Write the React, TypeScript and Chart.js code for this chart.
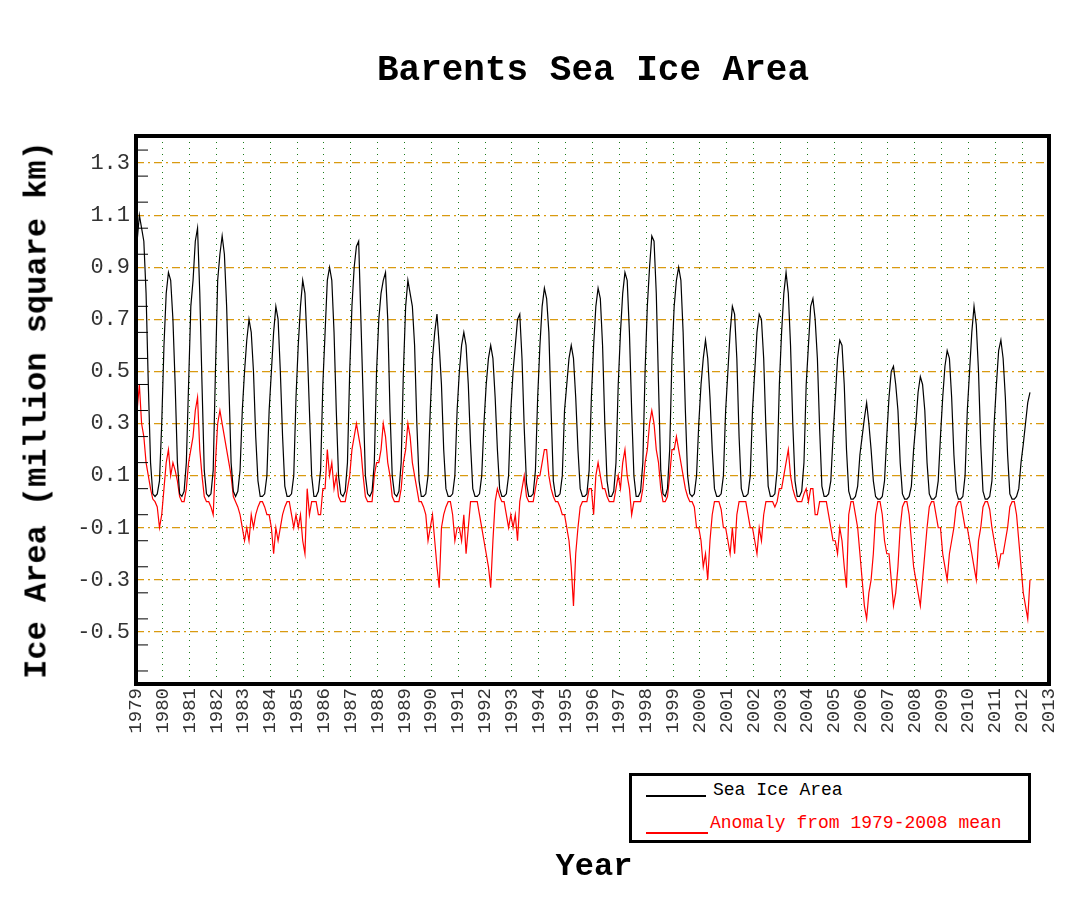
import React, { useEffect, useRef } from "react";
import { Chart, registerables } from "chart.js";
Chart.register(...registerables);

const startYear = 1979;
const yearTicks = Array.from({ length: 35 }, (_, i) => 1979 + i);
// monthly sea ice area (million km²), Jan..Dec per year
const area: number[][] = [
  [1.00,1.10,1.05,1.00,0.80,0.45,0.15,0.03,0.02,0.03,0.08,0.30],
  [0.60,0.80,0.88,0.85,0.70,0.45,0.15,0.03,0.02,0.04,0.15,0.45],
  [0.75,0.85,1.00,1.05,0.80,0.45,0.12,0.03,0.02,0.03,0.12,0.50],
  [0.85,0.95,1.02,0.95,0.75,0.45,0.15,0.04,0.02,0.04,0.12,0.35],
  [0.50,0.62,0.70,0.65,0.50,0.25,0.08,0.02,0.02,0.03,0.10,0.35],
  [0.50,0.65,0.75,0.70,0.50,0.25,0.06,0.02,0.02,0.03,0.10,0.40],
  [0.60,0.75,0.85,0.80,0.60,0.35,0.10,0.02,0.02,0.04,0.12,0.45],
  [0.65,0.85,0.90,0.85,0.65,0.35,0.10,0.03,0.02,0.04,0.15,0.50],
  [0.75,0.90,0.98,1.00,0.70,0.40,0.10,0.03,0.02,0.04,0.15,0.50],
  [0.70,0.80,0.85,0.88,0.70,0.35,0.10,0.03,0.02,0.04,0.15,0.50],
  [0.75,0.85,0.80,0.75,0.60,0.30,0.08,0.02,0.02,0.03,0.10,0.35],
  [0.55,0.65,0.72,0.60,0.45,0.20,0.05,0.02,0.02,0.03,0.10,0.35],
  [0.50,0.60,0.65,0.60,0.45,0.22,0.05,0.02,0.02,0.03,0.10,0.30],
  [0.45,0.55,0.60,0.55,0.40,0.20,0.05,0.02,0.02,0.03,0.10,0.35],
  [0.50,0.60,0.70,0.72,0.55,0.28,0.07,0.02,0.02,0.03,0.12,0.40],
  [0.60,0.75,0.82,0.78,0.65,0.35,0.08,0.02,0.02,0.03,0.10,0.35],
  [0.45,0.55,0.60,0.55,0.40,0.20,0.05,0.02,0.02,0.03,0.12,0.40],
  [0.60,0.75,0.82,0.78,0.60,0.30,0.08,0.02,0.02,0.04,0.15,0.45],
  [0.65,0.80,0.88,0.85,0.65,0.35,0.10,0.02,0.02,0.04,0.15,0.50],
  [0.75,0.90,1.02,1.00,0.80,0.45,0.12,0.03,0.02,0.05,0.20,0.55],
  [0.75,0.85,0.90,0.85,0.65,0.35,0.10,0.03,0.02,0.03,0.10,0.30],
  [0.45,0.55,0.62,0.55,0.40,0.20,0.05,0.02,0.02,0.03,0.10,0.35],
  [0.50,0.65,0.75,0.72,0.55,0.25,0.05,0.02,0.02,0.03,0.10,0.35],
  [0.50,0.65,0.72,0.70,0.55,0.28,0.06,0.02,0.02,0.03,0.12,0.45],
  [0.65,0.80,0.88,0.80,0.60,0.30,0.08,0.02,0.02,0.04,0.15,0.45],
  [0.60,0.75,0.78,0.70,0.55,0.28,0.06,0.02,0.02,0.03,0.08,0.25],
  [0.40,0.55,0.62,0.60,0.45,0.20,0.04,0.01,0.01,0.02,0.06,0.18],
  [0.25,0.32,0.38,0.30,0.20,0.08,0.02,0.01,0.01,0.02,0.08,0.25],
  [0.40,0.50,0.52,0.45,0.35,0.15,0.03,0.01,0.01,0.02,0.06,0.20],
  [0.30,0.42,0.48,0.45,0.35,0.15,0.03,0.01,0.01,0.02,0.08,0.25],
  [0.40,0.52,0.58,0.55,0.40,0.18,0.04,0.01,0.01,0.02,0.10,0.35],
  [0.50,0.65,0.75,0.68,0.50,0.22,0.04,0.01,0.01,0.02,0.08,0.30],
  [0.45,0.58,0.62,0.55,0.40,0.18,0.03,0.01,0.01,0.02,0.05,0.15],
  [0.22,0.30,0.38,0.42],
];
// monthly anomaly from 1979-2008 mean
const anomaly: number[][] = [
  [0.35,0.45,0.30,0.25,0.15,0.10,0.05,0.01,0.00,-0.02,-0.10,-0.05],
  [0.05,0.15,0.20,0.10,0.15,0.12,0.08,0.02,0.00,0.00,0.05,0.15],
  [0.20,0.25,0.35,0.40,0.20,0.10,0.02,0.00,0.00,-0.02,-0.05,0.15],
  [0.30,0.35,0.30,0.25,0.20,0.15,0.10,0.02,0.00,-0.02,-0.05,-0.10],
  [-0.15,-0.10,-0.15,-0.05,-0.10,-0.05,-0.02,0.00,0.00,-0.02,-0.05,-0.05],
  [-0.10,-0.20,-0.10,-0.15,-0.10,-0.05,-0.02,0.00,0.00,-0.05,-0.10,-0.05],
  [-0.10,-0.05,-0.15,-0.20,0.05,-0.05,0.00,0.00,0.00,-0.05,-0.05,0.05],
  [0.05,0.20,0.10,0.15,0.05,0.10,0.02,0.00,0.00,0.00,0.05,0.10],
  [0.20,0.25,0.30,0.25,0.20,0.10,0.02,0.00,0.00,0.00,0.10,0.15],
  [0.15,0.20,0.30,0.25,0.15,0.10,0.02,0.00,0.00,0.00,0.05,0.15],
  [0.20,0.30,0.25,0.15,0.10,0.05,0.00,0.00,-0.02,-0.05,-0.15,-0.10],
  [-0.05,-0.15,-0.25,-0.33,-0.10,-0.05,-0.02,0.00,0.00,-0.05,-0.15,-0.10],
  [-0.10,-0.15,-0.05,-0.20,-0.10,0.00,0.00,0.00,0.00,-0.05,-0.10,-0.15],
  [-0.20,-0.25,-0.33,-0.15,0.00,0.05,0.02,0.00,0.00,-0.05,-0.10,-0.05],
  [-0.10,-0.05,-0.15,0.00,0.05,0.10,0.02,0.00,0.00,0.00,0.05,0.10],
  [0.10,0.15,0.20,0.20,0.10,0.05,0.02,0.00,0.00,-0.02,-0.05,-0.05],
  [-0.10,-0.15,-0.25,-0.40,-0.20,-0.10,-0.02,0.00,0.00,0.00,0.05,0.05],
  [-0.05,0.10,0.15,0.10,0.05,0.05,0.02,0.00,0.00,0.00,0.05,0.10],
  [0.05,0.15,0.20,0.10,0.05,-0.05,0.00,0.00,0.00,0.00,0.05,0.15],
  [0.20,0.30,0.35,0.30,0.20,0.15,0.05,0.00,0.00,0.02,0.10,0.20],
  [0.20,0.25,0.20,0.15,0.10,0.05,0.02,0.00,0.00,-0.02,-0.10,-0.10],
  [-0.15,-0.25,-0.20,-0.30,-0.15,-0.05,0.00,0.00,0.00,-0.03,-0.10,-0.10],
  [-0.15,-0.20,-0.10,-0.20,-0.05,0.00,0.00,0.00,0.00,-0.05,-0.10,-0.10],
  [-0.15,-0.20,-0.10,-0.15,-0.05,0.00,0.00,0.00,0.00,-0.02,0.00,0.05],
  [0.05,0.10,0.15,0.20,0.10,0.05,0.02,0.00,0.00,0.00,0.03,0.05],
  [0.00,0.05,0.05,-0.05,-0.05,0.00,0.00,0.00,0.00,-0.05,-0.10,-0.15],
  [-0.15,-0.20,-0.10,-0.15,-0.25,-0.33,-0.05,0.00,0.00,-0.05,-0.10,-0.20],
  [-0.30,-0.40,-0.45,-0.35,-0.30,-0.20,-0.05,0.00,0.00,-0.05,-0.15,-0.20],
  [-0.20,-0.30,-0.40,-0.35,-0.25,-0.10,-0.02,0.00,0.00,-0.05,-0.15,-0.25],
  [-0.30,-0.35,-0.40,-0.30,-0.20,-0.10,-0.02,0.00,0.00,-0.05,-0.10,-0.10],
  [-0.20,-0.25,-0.30,-0.20,-0.15,-0.10,-0.02,0.00,0.00,-0.05,-0.10,-0.10],
  [-0.15,-0.20,-0.25,-0.30,-0.15,-0.10,-0.02,0.00,0.00,-0.03,-0.10,-0.15],
  [-0.20,-0.25,-0.20,-0.20,-0.15,-0.10,-0.02,0.00,0.00,-0.05,-0.15,-0.25],
  [-0.35,-0.40,-0.45,-0.30],
];

const toPoints = (rows: number[][]) =>
  rows.flatMap((row, yi) => row.map((v, m) => ({ x: startYear + yi + (m + 0.5) / 12, y: v })));

const MONO = "'Liberation Mono', 'DejaVu Sans Mono', monospace";

const frame = {
  id: "frame",
  afterDraw(chart: any) {
    const { ctx, chartArea: a, scales } = chart;
    ctx.save();
    ctx.strokeStyle = "#000";
    ctx.lineWidth = 1;
    for (let v = -0.65; v < 1.4; v += 0.1) {
      const y = scales.y.getPixelForValue(v);
      ctx.beginPath();
      ctx.moveTo(a.left, y);
      ctx.lineTo(a.left + 12, y);
      ctx.stroke();
    }
    ctx.lineWidth = 4;
    ctx.strokeRect(a.left, a.top, a.right - a.left, a.bottom - a.top);
    ctx.restore();
  },
};

export default function App() {
  const ref = useRef<HTMLCanvasElement>(null);
  useEffect(() => {
    const chart = new Chart(ref.current!, {
      type: "line",
      data: {
        datasets: [
          { label: "Sea Ice Area", data: toPoints(area), borderColor: "#000", borderWidth: 1.2, pointRadius: 0, tension: 0 },
          { label: "Anomaly from 1979-2008 mean", data: toPoints(anomaly), borderColor: "#ff0000", borderWidth: 1.2, pointRadius: 0, tension: 0 },
        ],
      },
      options: {
        animation: false,
        responsive: false,
        layout: { padding: { left: 0, right: 43, top: 136, bottom: 0 } },
        plugins: { legend: { display: false }, title: { display: false }, tooltip: { enabled: false } },
        scales: {
          x: {
            type: "linear",
            min: 1979,
            max: 2013,
            afterBuildTicks: (s: any) => { s.ticks = yearTicks.map((v) => ({ value: v })); },
            afterFit: (s: any) => { s.height = 228; },
            ticks: { maxRotation: 90, minRotation: 90, autoSkip: false, color: "#333", font: { family: MONO, size: 19 }, callback: (v: any) => String(v), padding: 4 },
            grid: { color: "#1a7a1a", drawTicks: false },
            border: { display: false, dash: [1, 5] },
          },
          y: {
            min: -0.7,
            max: 1.404,
            afterBuildTicks: (s: any) => {
              const t = [];
              for (let i = -7; i <= 14; i++) t.push({ value: i / 10 });
              s.ticks = t;
            },
            afterFit: (s: any) => { s.width = 136; },
            ticks: {
              color: "#333",
              font: { family: MONO, size: 22 },
              padding: 6,
              callback: (v: any) => {
                const r = Math.round(v * 10) / 10;
                return r < -0.65 || r > 1.35 ? "" : String(r);
              },
            },
            grid: {
              drawTicks: false,
              color: (c: any) => (Math.abs(c.tick.value) < 1e-9 ? "#000" : "#d99a10"),
              lineWidth: 1.2,
            },
            border: { display: false, dash: (c: any) => (Math.abs(c.tick.value) < 1e-9 ? [] : [8, 4, 2, 4]) } as any,
          },
        },
      },
      plugins: [frame],
    } as any);
    return () => chart.destroy();
  }, []);

  return (
    <div style={{ position: "fixed", left: 0, top: 0, width: 1092, height: 912, background: "#fff", fontFamily: MONO }}>
      <canvas ref={ref} width={1092} height={912} style={{ position: "absolute", left: 0, top: 0 }} />
      <div style={{ position: "absolute", left: 0, width: 1186, top: 50, textAlign: "center", fontSize: 36, fontWeight: "bold" }}>
        Barents Sea Ice Area
      </div>
      <div style={{ position: "absolute", left: 37, top: 410, transform: "translate(-50%, -50%) rotate(-90deg)", whiteSpace: "nowrap", fontSize: 32, fontWeight: "bold" }}>
        Ice Area (million square km)
      </div>
      <div style={{ position: "absolute", left: 0, width: 1188, top: 848, textAlign: "center", fontSize: 32, fontWeight: "bold" }}>
        Year
      </div>
      <div style={{ position: "absolute", left: 629, top: 773, width: 396, height: 64, border: "3px solid #000", background: "#fff" }}>
        <div style={{ position: "absolute", left: 14, top: 19, width: 60, borderTop: "2px solid #000" }} />
        <div style={{ position: "absolute", left: 81, top: 4, fontSize: 18, color: "#000" }}>Sea Ice Area</div>
        <div style={{ position: "absolute", left: 14, top: 56, width: 62, borderTop: "2px solid #f00" }} />
        <div style={{ position: "absolute", left: 78, top: 37, fontSize: 18, color: "#f00" }}>Anomaly from 1979-2008 mean</div>
      </div>
    </div>
  );
}
